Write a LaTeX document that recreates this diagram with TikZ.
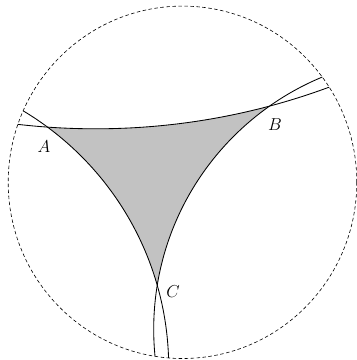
\documentclass[tikz,border=0pt]{standalone}
\begin{document}
\begin{tikzpicture}[x=1pt,y=1pt,
  geo/.style={line width=0.85pt},
  bdry/.style={dash pattern=on 3.5pt off 2.5pt, line width=0.6pt},
  lbl/.style={font=\LARGE, inner sep=0pt}]
\useasboundingbox (0,0) rectangle (357,-360);
\coordinate (O) at (182.5,-182.3);
\coordinate (O1) at (95.6,544);
\coordinate (O2) at (-130.3,-367.5);
\coordinate (O3) at (426.6,-329.3);
% shaded triangle
\begin{scope}[even odd rule]
  \clip (O) ellipse [x radius=174.3pt, y radius=176.2pt];
  \clip (-60,60) rectangle (430,-430) (O1) circle [radius=672.8pt];
  \clip (-60,60) rectangle (430,-430) (O2) circle [radius=299pt];
  \clip (-60,60) rectangle (430,-430) (O3) circle [radius=272.9pt];
  \fill[black!24] (-60,60) rectangle (430,-430);
\end{scope}
% geodesics
\begin{scope}
  \clip (O) ellipse [x radius=174.3pt, y radius=176.2pt];
  \draw[geo] (O1) circle [radius=672.8pt];
  \draw[geo] (O2) circle [radius=299pt];
  \draw[geo] (O3) circle [radius=272.9pt];
\end{scope}
% boundary
\draw[bdry] (O) ellipse [x radius=174.3pt, y radius=176.2pt];
% labels
\node[lbl] (A) at (44,-147) {$A$};
\node[lbl] (B) at (275,-125) {$B$};
\node[lbl] (C) at (173,-292) {$C$};
\end{tikzpicture}
\end{document}
